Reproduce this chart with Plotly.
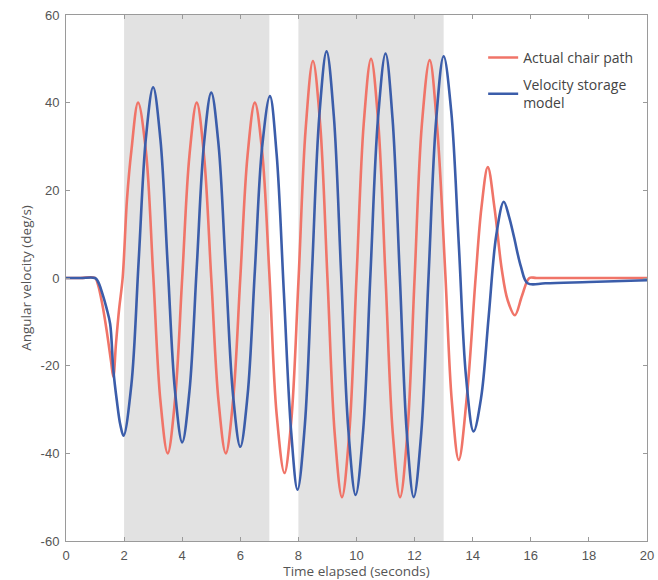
import plotly.graph_objects as go

# Actual chair path (red)
chair_t = [0.0, 0.5, 1.0, 1.1, 1.25, 1.4, 1.55, 1.63, 1.72, 1.83, 1.95, 2.1, 2.25, 2.48,
           2.75, 3.0, 3.25, 3.5, 3.75, 4.0, 4.25, 4.5, 4.75, 5.0, 5.25, 5.5, 5.75, 6.0,
           6.25, 6.5, 6.75, 7.0, 7.25, 7.52, 7.75, 8.0, 8.25, 8.5, 8.75, 9.0, 9.25, 9.5,
           9.75, 10.0, 10.25, 10.5, 10.75, 11.0, 11.25, 11.5, 11.75, 12.0, 12.25, 12.52,
           12.78, 13.05, 13.28, 13.52, 13.8, 14.1, 14.3, 14.52, 14.75, 15.0, 15.2, 15.45,
           15.7, 15.95, 16.2, 18.0, 20.0]
chair_v = [0, 0, 0, -1.5, -6, -12, -19, -22.5, -15, -7, 0, 18, 29, 40,
           29, 1, -28, -40, -28, 0, 28, 40, 28, 0, -28, -40, -28, 0,
           28, 40, 29, 1, -31, -44.5, -33, -1, 34, 49.5, 35, 0, -35.5, -50,
           -35.5, 0, 35.3, 50, 35.3, 0, -35.5, -50, -35.5, 0, 35, 49.7,
           34, 2, -28, -41.5, -27, 0, 16, 25.3, 16, 2, -5, -8.5,
           -4, 0, 0, 0, 0]

# Velocity storage model (blue)
model_t = [0.0, 0.5, 1.0, 1.1, 1.25, 1.4, 1.52, 1.63, 1.75, 1.87, 1.98, 2.25, 2.5, 2.75,
           3.0, 3.25, 3.5, 3.75, 4.0, 4.25, 4.5, 4.75, 5.0, 5.25, 5.5, 5.75, 6.0,
           6.25, 6.5, 6.75, 7.02, 7.25, 7.5, 7.75, 7.97, 8.22, 8.47, 8.72, 8.97, 9.22,
           9.47, 9.72, 9.97, 10.23, 10.48, 10.74, 11.0, 11.24, 11.49, 11.73, 11.97,
           12.23, 12.48, 12.74, 13.0, 13.26, 13.52, 13.77, 14.03, 14.29, 14.55, 14.81,
           15.07, 15.25, 15.42, 15.66, 15.89, 16.5, 18.0, 20.0]
model_v = [0, 0, 0, -0.8, -3.5, -7, -10.5, -21, -28, -33.5, -36, -24.4, 3.75, 31.9,
           43.5, 31.6, 3, -25.6, -37.5, -25.8, 2.4, 30.6, 42.3, 30.5, 1.9, -26.7, -38.5,
           -26.8, 1.5, 29.8, 41.5, 28.3, -3.4, -35, -48.3, -33.7, 1.7, 37, 51.7, 36.9,
           1.1, -34.7, -49.5, -34.7, 0.85, 36.4, 51.2, 36.4, 0.6, -35.2, -50,
           -35.3, 0.3, 35.9, 50.6, 38.1, 7.8, -22.5, -35, -27.3, -8.8, 9.7,
           17.4, 14, 9.4, 2.6, -1.2, -1.2, -0.9, -0.5]

shade_bands = [(2, 7), (8, 13)]
x_ticks = [0, 2, 4, 6, 8, 10, 12, 14, 16, 18, 20]
x_tick_labels = ["0", "2", "4", "6", "8", "10", "12", "14", "16", "18", "20"]
y_ticks = [-60, -40, -20, 0, 20, 40, 60]
y_tick_labels = ["-60", "-40", "-20", "0", "20", "40", "60"]

fig = go.Figure()
fig.add_trace(go.Scatter(x=chair_t, y=chair_v, mode="lines", name="Actual chair path",
                         legendgroup="chair",
                         line=dict(color="#f07468", width=2.6, shape="spline", smoothing=1.0)))
fig.add_trace(go.Scatter(x=model_t, y=model_v, mode="lines", name="Velocity storage<br>model",
                         legendgroup="model",
                         line=dict(color="#3b5daa", width=2.6, shape="spline", smoothing=1.0)))

for a, b in shade_bands:
    fig.add_shape(type="rect", xref="x", yref="paper", x0=a, x1=b, y0=0, y1=1,
                  fillcolor="#e2e2e2", line=dict(width=0), layer="below")

axis_common = dict(showgrid=False, zeroline=False, showline=True, linecolor="#9a9a9a",
                   linewidth=1, mirror="ticks", ticks="inside", ticklen=4, automargin=False,
                   tickcolor="#9a9a9a", tickfont=dict(family="Liberation Sans", size=13, color="#555"))

fig.update_xaxes(range=[0, 20], tickvals=x_ticks, ticktext=x_tick_labels, ticklabelstandoff=2,
                 title=dict(text="Time elapsed (seconds)", standoff=1,
                            font=dict(family="Open Sans", size=13.5, color="#555")),
                 **axis_common)
fig.update_yaxes(range=[-60, 60], tickvals=y_ticks, ticktext=y_tick_labels, ticklabelstandoff=3,
                 title=dict(text="Angular velocity (deg/s)", standoff=5,
                            font=dict(family="Open Sans", size=13.5, color="#555")),
                 **axis_common)

fig.update_layout(
    width=658, height=580,
    margin=dict(l=66, r=11, t=15, b=39),
    plot_bgcolor="white", paper_bgcolor="white",
    showlegend=True,
    legend=dict(x=0.718, y=0.949, xanchor="left", yanchor="top",
                bgcolor="rgba(0,0,0,0)", borderwidth=0,
                font=dict(family="Open Sans", size=14, color="#444"),
                tracegroupgap=6),
)

fig.write_html("out.html", config={"displayModeBar": False},
               post_script="document.body.style.margin='0';")
